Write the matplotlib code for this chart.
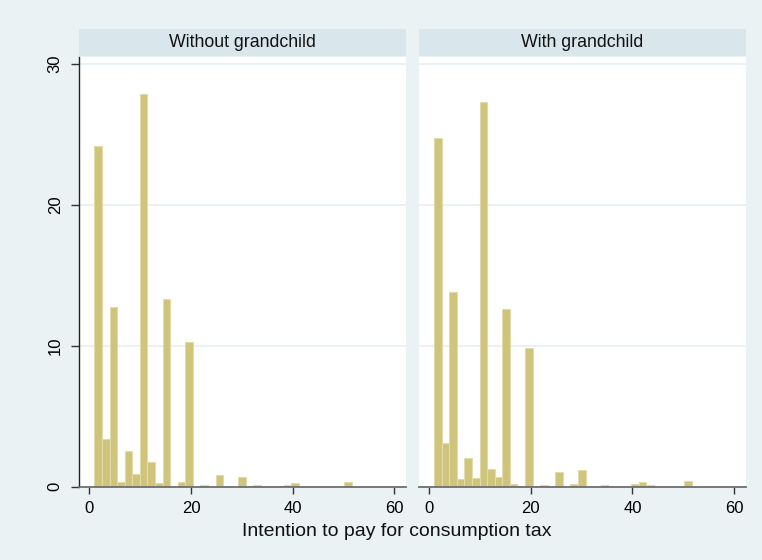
import numpy as np
import matplotlib.pyplot as plt

# histogram of percent, bins start at 1 with width ~1.49
bin_start = 1.0
bin_width = 1.49

without_gc = [24.15, 3.36, 12.74, 0.36, 2.56, 0.92, 27.87, 1.75, 0.24, 13.31,
              0.0, 0.36, 10.30, 0.0, 0.12, 0.0, 0.80, 0.0, 0.0, 0.69,
              0.0, 0.12, 0.0, 0.0, 0.0, 0.12, 0.24, 0.0, 0.0, 0.0,
              0.0, 0.0, 0.0, 0.33]
with_gc = [24.75, 3.08, 13.80, 0.54, 2.06, 0.62, 27.28, 1.26, 0.71, 12.60,
           0.17, 0.08, 9.87, 0.0, 0.10, 0.0, 1.04, 0.0, 0.17, 1.18,
           0.0, 0.0, 0.10, 0.0, 0.0, 0.0, 0.17, 0.36, 0.10, 0.0,
           0.0, 0.0, 0.0, 0.40]

panels = ["Without grandchild", "With grandchild"]
xticks = [0, 20, 40, 60]
yticks = [0, 10, 20, 30]

bg = "#EAF2F3"
strip_col = "#D9E6EC"
bar_col = "#CFC47C"
edge_col = "#E2DBA8"
grid_col = "#E6EFF2"

plt.rcParams['font.family'] = ['Liberation Sans', 'DejaVu Sans']

fig = plt.figure(figsize=(7.62, 5.60), dpi=100, facecolor=bg)

W, H = 762.0, 560.0
lefts = [79.3, 419.0]
pw = 326.5
top_px, bot_px = 57.0, 486.7

for k, (name, vals) in enumerate(zip(panels, [without_gc, with_gc])):
    ax = fig.add_axes([lefts[k] / W, (H - bot_px) / H, pw / W, (bot_px - top_px) / H])
    ax.set_facecolor("white")
    x = bin_start + bin_width * np.arange(len(vals))
    ax.bar(x, vals, width=bin_width, align="edge", color=bar_col,
           edgecolor=edge_col, linewidth=0.8, zorder=2)
    ax.set_xlim(-1.97, 62.25)
    ax.set_ylim(0, 30.5)
    ax.set_xticks(xticks)
    ax.set_yticks(yticks)
    for yv in yticks[1:]:
        ax.axhline(yv, color=grid_col, lw=1.2, zorder=1)
    for s in ["top", "right"]:
        ax.spines[s].set_visible(False)
    ax.spines["bottom"].set_color("#6e6e6e")
    ax.spines["bottom"].set_linewidth(1.3)
    ax.tick_params(axis="x", length=5, width=1, color="#333333",
                   labelsize=12, pad=5)
    if k == 0:
        ax.spines["left"].set_color("#222222")
        ax.spines["left"].set_linewidth(1.0)
        ax.tick_params(axis="y", length=6, width=1, color="#333333",
                       labelsize=12, pad=6)
        for lab in ax.get_yticklabels():
            lab.set_rotation(90)
            lab.set_va("center")
    else:
        ax.spines["left"].set_visible(False)
        ax.tick_params(axis="y", left=False, labelleft=False)

    # strip title above each panel
    sx = fig.add_axes([lefts[k] / W, (H - 56.0) / H, pw / W, 27.0 / H])
    sx.set_facecolor(strip_col)
    sx.set_xticks([])
    sx.set_yticks([])
    for s in sx.spines.values():
        s.set_visible(False)
    sx.text(0.5, 0.5, name, ha="center", va="center", fontsize=12.8,
            color="#111111", transform=sx.transAxes)

fig.text(397.0 / W, 1 - 532.0 / H, "Intention to pay for consumption tax",
         ha="center", va="center", fontsize=14, color="#111111")

plt.savefig("out.png", dpi=100, facecolor=bg)
